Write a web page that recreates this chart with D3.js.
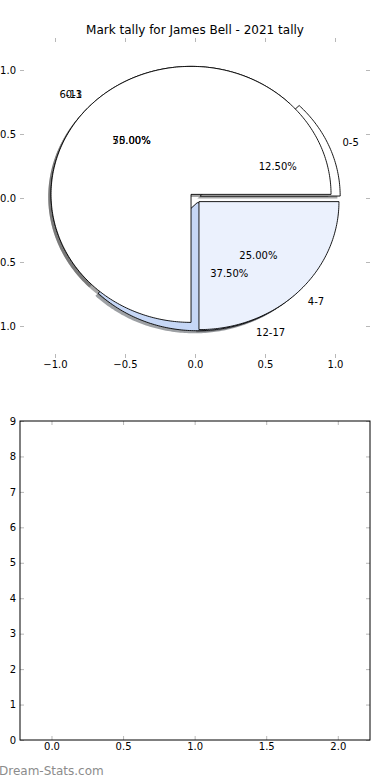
<!DOCTYPE html>
<html>
<head>
<meta charset="utf-8">
<script src="https://cdn.jsdelivr.net/npm/d3@7"></script>
<style>
  body { margin: 0; background: #fff; }
  text { font-family: "DejaVu Sans", sans-serif; }
</style>
</head>
<body>
<svg id="chart" width="390" height="780"></svg>
<script>
var title = 'Mark tally for James Bell - 2021 tally';

// first pie (drawn underneath)
var groupsA = ['0-5', '6-11', '12-17'];
var countsA = [1, 4, 3];
// second pie (drawn on top of the first)
var groupsB = ['0-3', '4-7'];
var countsB = [3, 1];

var pieTicks = [-1.0, -0.5, 0.0, 0.5, 1.0];
var barXTicks = [0.0, 0.5, 1.0, 1.5, 2.0];
var barYTicks = [0, 1, 2, 3, 4, 5, 6, 7, 8, 9];

var colorsA = ['#ffffff', '#ffffff', '#c6d7f6'];
var colorsB = ['#ffffff', '#ebf1fd'];
var explode = 0.04;

var svg = d3.select('#chart');

// title
svg.append('text').text(title)
  .attr('x', 195).attr('y', 34)
  .attr('font-size', 12).attr('text-anchor', 'middle');

// ---- pie axes ----
var sx = d3.scaleLinear().domain([-1.25, 1.25]).range([20, 370]);
var sy = d3.scaleLinear().domain([-1.25, 1.25]).range([358, 38]);

function wedgePath(cx, cy, t1, t2) {
  var pts = [[cx, cy]];
  var n = Math.max(2, Math.ceil((t2 - t1) / 0.015));
  for (var i = 0; i <= n; i++) {
    var t = t1 + (t2 - t1) * i / n;
    pts.push([cx + Math.cos(t), cy + Math.sin(t)]);
  }
  return d3.line().x(p => sx(p[0])).y(p => sy(p[1]))(pts) + 'Z';
}

function buildPie(labels, counts, colors) {
  var arcs = d3.pie().sort(null).startAngle(0).endAngle(2 * Math.PI)(counts);
  var total = d3.sum(counts);
  return arcs.map(function(a, i) {
    var tm = (a.startAngle + a.endAngle) / 2;
    return {
      label: labels[i], frac: counts[i] / total, color: colors[i],
      t1: a.startAngle, t2: a.endAngle, tm: tm,
      cx: explode * Math.cos(tm), cy: explode * Math.sin(tm)
    };
  });
}

var wedges = buildPie(groupsA, countsA, colorsA).concat(buildPie(groupsB, countsB, colorsB));

var pieG = svg.append('g');

// shadows sit below every wedge
pieG.selectAll('path.shadow').data(wedges).enter().append('path')
  .attr('class', 'shadow')
  .attr('d', d => wedgePath(d.cx, d.cy, d.t1, d.t2))
  .attr('transform', 'translate(' + (sx(-0.02) - sx(0)) + ',' + (sy(-0.02) - sy(0)) + ')')
  .attr('fill', function(d) { var c = d3.rgb(d.color); return d3.rgb(c.r * 0.3, c.g * 0.3, c.b * 0.3); })
  .attr('fill-opacity', 0.5);

pieG.selectAll('path.wedge').data(wedges).enter().append('path')
  .attr('class', 'wedge')
  .attr('d', d => wedgePath(d.cx, d.cy, d.t1, d.t2))
  .attr('fill', d => d.color)
  .attr('stroke', '#000').attr('stroke-width', 0.9)
  .attr('stroke-linejoin', 'miter');

wedges.forEach(function(d) {
  var xt = d.cx + 1.1 * Math.cos(d.tm);
  var yt = d.cy + 1.1 * Math.sin(d.tm);
  pieG.append('text').text(d.label)
    .attr('x', sx(xt)).attr('y', sy(yt))
    .attr('font-size', 10).attr('dominant-baseline', 'central')
    .attr('text-anchor', xt > 0 ? 'start' : 'end');
  var xp = d.cx + 0.6 * Math.cos(d.tm);
  var yp = d.cy + 0.6 * Math.sin(d.tm);
  pieG.append('text').text(d3.format('.2f')(d.frac * 100) + '%')
    .attr('x', sx(xp)).attr('y', sy(yp))
    .attr('font-size', 10).attr('dominant-baseline', 'central')
    .attr('text-anchor', 'middle');
});

function styleAxis(g, keepDomain) {
  g.attr('font-family', '"DejaVu Sans", sans-serif').attr('font-size', 10);
  g.selectAll('.tick line').attr('stroke', '#b8b8b8');
  g.selectAll('.tick text').attr('fill', '#000');
  if (!keepDomain) g.select('.domain').remove();
  else g.select('.domain').attr('stroke', '#000');
}

var fmt1 = d3.format('.1f');
styleAxis(svg.append('g').attr('transform', 'translate(0,358)')
  .call(d3.axisBottom(sx).tickValues(pieTicks).tickFormat(fmt1).tickSize(-4).tickPadding(3)), false);
styleAxis(svg.append('g').attr('transform', 'translate(0,38)')
  .call(d3.axisTop(sx).tickValues(pieTicks).tickFormat('').tickSize(-4)), false);
styleAxis(svg.append('g').attr('transform', 'translate(20,0)')
  .call(d3.axisLeft(sy).tickValues(pieTicks).tickFormat(fmt1).tickSize(-4).tickPadding(4)), false);
styleAxis(svg.append('g').attr('transform', 'translate(370,0)')
  .call(d3.axisRight(sy).tickValues(pieTicks).tickFormat('').tickSize(-4)), false);

// ---- empty bar axes ----
var bx = d3.scaleLinear().domain([-0.22, 2.225]).range([20, 370]);
var by = d3.scaleLinear().domain([0, 9]).range([740, 421]);

styleAxis(svg.append('g').attr('transform', 'translate(0,740)')
  .call(d3.axisBottom(bx).tickValues(barXTicks).tickFormat(fmt1).tickSize(-4).tickSizeOuter(0).tickPadding(3)), false);
styleAxis(svg.append('g').attr('transform', 'translate(0,421)')
  .call(d3.axisTop(bx).tickValues(barXTicks).tickFormat('').tickSize(-4)), false);
styleAxis(svg.append('g').attr('transform', 'translate(20,0)')
  .call(d3.axisLeft(by).tickValues(barYTicks).tickFormat(d3.format('d')).tickSize(-4).tickPadding(4)), false);
styleAxis(svg.append('g').attr('transform', 'translate(370,0)')
  .call(d3.axisRight(by).tickValues(barYTicks).tickFormat('').tickSize(-4)), false);

svg.append('rect')
  .attr('x', 20).attr('y', 421).attr('width', 350).attr('height', 319)
  .attr('fill', 'none').attr('stroke', '#000').attr('stroke-width', 1);

// watermark
svg.append('text').text('Dream-Stats.com')
  .attr('x', -1).attr('y', 775)
  .attr('font-size', 12).attr('fill', '#8c8c8c');
</script>
</body>
</html>
